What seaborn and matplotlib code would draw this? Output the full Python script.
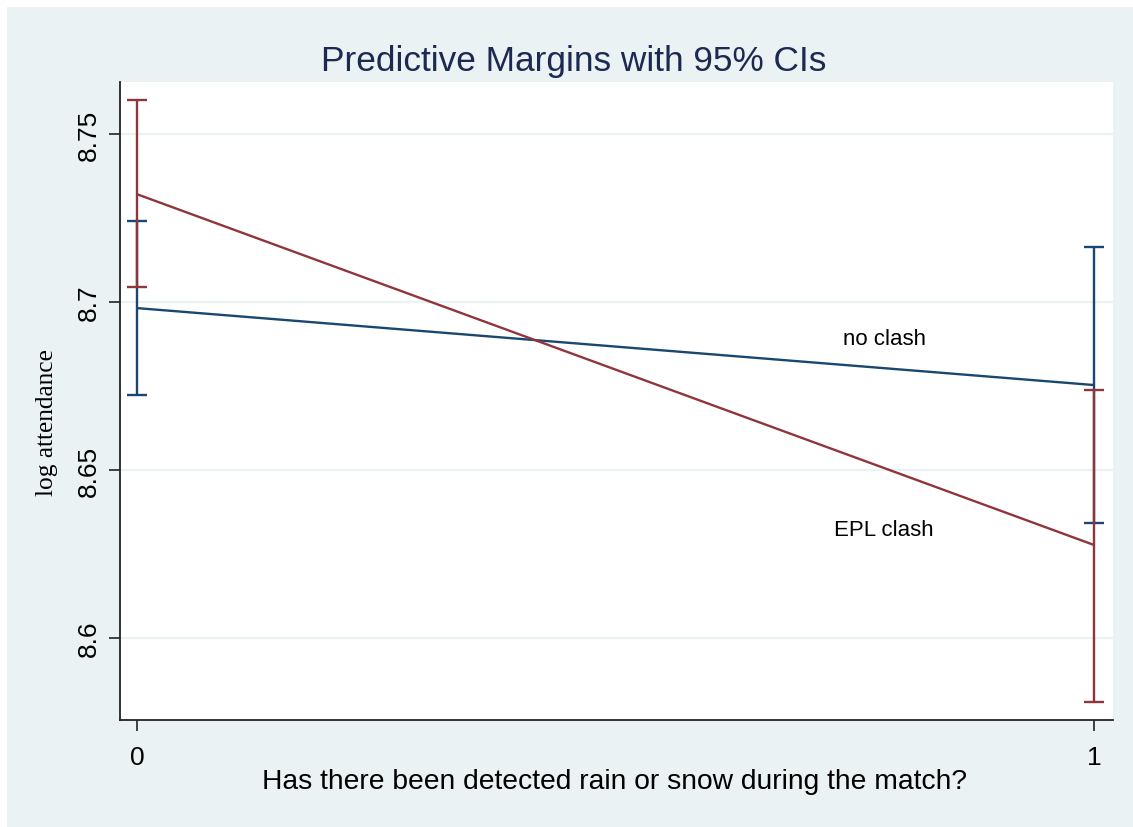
import matplotlib
matplotlib.use("Agg")
import matplotlib.pyplot as plt
import seaborn as sns
import pandas as pd
from matplotlib.patches import Rectangle

# ---- data ----
rain = [0, 1]
groups = ["no clash", "EPL clash"]
no_clash_margin = [8.6982, 8.6753]
no_clash_lo = [8.6724, 8.6341]
no_clash_hi = [8.7240, 8.7165]
epl_margin = [8.7321, 8.6277]
epl_lo = [8.7045, 8.5810]
epl_hi = [8.7601, 8.6739]
y_ticks = [8.6, 8.65, 8.7, 8.75]
y_tick_labels = ["8.6", "8.65", "8.7", "8.75"]
x_ticks = [0, 1]

navy = "#1A476F"
maroon = "#90353B"
bg = "#EAF2F3"

df = pd.DataFrame({
    "rain": rain * 2,
    "margin": no_clash_margin + epl_margin,
    "lo": no_clash_lo + epl_lo,
    "hi": no_clash_hi + epl_hi,
    "group": [groups[0]] * 2 + [groups[1]] * 2,
})

sns.set_theme(style="white")
plt.rcParams["font.family"] = ["Liberation Sans", "DejaVu Sans"]

fig = plt.figure(figsize=(11.33, 8.28), dpi=100)
fig.patch.set_facecolor("white")
# stata-like graph region (behind the axes)
fig.patches.append(Rectangle((7 / 1133, 0), 1 - 7 / 1133, 1 - 8 / 828,
                             transform=fig.transFigure, facecolor=bg,
                             edgecolor="none", zorder=-10))
ax = fig.add_axes([120 / 1133, 1 - 721 / 828, (1113 - 120) / 1133, (721 - 83) / 828])
ax.set_facecolor("white")

palette = {groups[0]: navy, groups[1]: maroon}

# confidence intervals (blue first, red on top)
for g in groups:
    sub = df[df["group"] == g]
    ax.errorbar(sub["rain"], sub["margin"],
                yerr=[sub["margin"] - sub["lo"], sub["hi"] - sub["margin"]],
                fmt="none", ecolor=palette[g], elinewidth=1.7,
                capsize=7.5, capthick=1.7, zorder=3)

sns.lineplot(data=df, x="rain", y="margin", hue="group", palette=palette,
             linewidth=1.7, legend=False, ax=ax, zorder=4)

ax.set_xlim(-0.0178, 1.0199)
ax.set_ylim(8.5756, 8.7655)
ax.set_yticks(y_ticks)
ax.set_yticklabels(y_tick_labels, rotation=90, va="center")
ax.set_xticks(x_ticks)
ax.tick_params(axis="both", which="both", direction="out", length=8, width=1.2,
               color="#222222", labelsize=19, labelcolor="black", left=True, bottom=True)
ax.tick_params(axis="y", pad=6)
ax.tick_params(axis="x", pad=10)

ax.yaxis.grid(True, color=bg, linewidth=1.6)
ax.xaxis.grid(False)
ax.set_axisbelow(True)
for side in ["top", "right"]:
    ax.spines[side].set_visible(False)
for side in ["left", "bottom"]:
    ax.spines[side].set_color("#222222")
    ax.spines[side].set_linewidth(1.3)

ax.set_xlabel("")
ax.set_ylabel("")

ax.text(0.7806, 8.6893, "no clash", fontsize=16, ha="center", va="center", color="black")
ax.text(0.7806, 8.6324, "EPL clash", fontsize=16, ha="center", va="center", color="black")

fig.text(574 / 1133, 1 - 62 / 828, "Predictive Margins with 95% CIs",
         fontsize=25.4, color="#1C2952", ha="center", va="center")
fig.text(615 / 1133, 1 - 782 / 828, "Has there been detected rain or snow during the match?",
         fontsize=20.3, color="black", ha="center", va="center")
fig.text(47 / 1133, 1 - 423 / 828, "log attendance", family=["Liberation Serif", "DejaVu Serif"],
         fontsize=18.3, rotation=90, color="black", ha="center", va="center")

fig.savefig("out.png", dpi=100, facecolor=fig.get_facecolor())
